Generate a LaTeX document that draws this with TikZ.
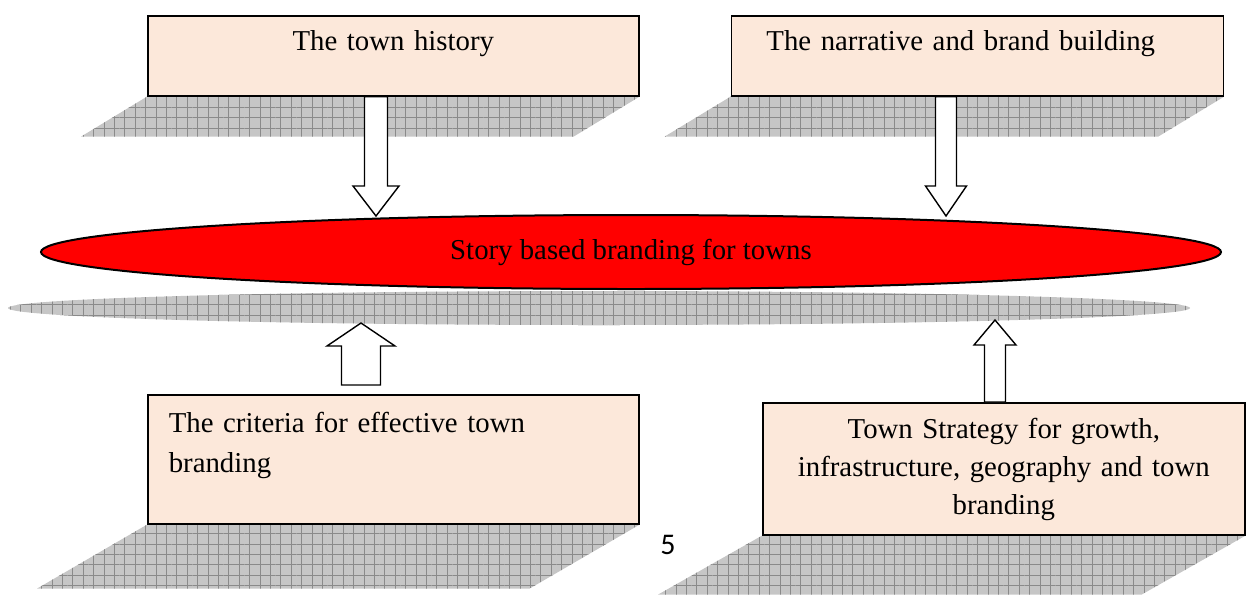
\documentclass[tikz,border=0pt]{standalone}
\usepackage{fontspec}
\setmainfont{Liberation Serif}
\newfontfamily\pagenumfont{Carlito}
\usetikzlibrary{shapes.geometric, positioning, calc, backgrounds, patterns.meta}
\definecolor{boxPeach} {RGB}{252, 232, 218}
\definecolor{storyRed} {RGB}{255,   0,   0}
\definecolor{planeGray}{RGB}{198, 198, 198}
\definecolor{gridGray} {RGB}{138, 138, 138}
\tikzset{
  box/.style   = {rectangle, draw=black, fill=boxPeach, line width=0.8pt,
                  inner sep=0pt, font=\fontsize{14.4}{19}\selectfont},
  plane/.style = {fill=planeGray,
                  postaction={pattern={Hatch[distance=5.2pt, line width=0.5pt]},
                              pattern color=gridGray}},
  blk/.style   = {draw=black, fill=white, line width=0.7pt},
}
% block arrow: tail level from #1, tip at #2, shaft half, head half, head length
\newcommand{\blockarrow}[5]{%
  \draw[blk] let \p1=(#1), \p2=(#2), \n1={sign(\y2-\y1)},
                 \n2={\y2-\n1*#5} in
    ({\x2-#3},\y1) -- ({\x2-#3},\n2) -- ({\x2-#4},\n2) -- (\x2,\y2)
    -- ({\x2+#4},\n2) -- ({\x2+#3},\n2) -- ({\x2+#3},\y1) -- cycle;}

\begin{document}
\begin{tikzpicture}[x=0.5pt, y=-0.5pt]
\useasboundingbox (0,0) rectangle (1247,596);

% ---- Top row: history and narrative ----------------------------------------
\node[box, anchor=north west, text width=245.5pt, align=center,
      text height=17.5pt, text depth=22.5pt] (hist) at (147,15)
      {The town history};

\node[box, right=45.5pt of hist, text width=211pt, inner xsep=17.5pt,
      align=left, text height=17.5pt, text depth=22.5pt] (narr)
      {The narrative and brand building};

% ---- Centre: the story ------------------------------------------------------
\node[ellipse, draw=black, line width=1pt, fill=storyRed, inner sep=0pt,
      minimum width=590pt, minimum height=37pt,
      font=\fontsize{14.4}{19}\selectfont] (story) at (631,252)
      {Story based branding for towns};

\node[ellipse, plane, inner sep=0pt, minimum width=591pt,
      minimum height=17pt] (storyBase) at (599,308) {};

% ---- Bottom row: criteria and strategy --------------------------------------
\node[box, anchor=north west, text width=224.5pt, inner xsep=10.5pt,
      align=left, text height=19pt, text depth=45.5pt,
      font=\fontsize{14.4}{20}\selectfont] (crit) at (147,394)
      {The criteria for effective town\\branding};

\node[box, anchor=north west, text width=241pt, align=center,
      text height=18pt, text depth=48pt] (strat) at (762,402)
      {Town Strategy for growth,\\infrastructure, geography and town\\branding};

% ---- Page number ------------------------------------------------------------
\node[font=\pagenumfont\fontsize{15}{18}\selectfont] (pagenum) at (668,545) {5};

% ---- Arrows -----------------------------------------------------------------
\coordinate (histTip)   at (376,216);
\coordinate (narrTip)   at (946,216);
\coordinate (critTail)  at ($(crit.north)+(0,-9)$);
\coordinate (critTip)   at (361,323);
\coordinate (stratTip)  at (995,320);

\blockarrow{hist.south}{histTip}{5.75pt}{11.5pt}{15pt}
\blockarrow{narr.south}{narrTip}{5.25pt}{10.25pt}{15pt}
\blockarrow{critTail}{critTip}{9.75pt}{17pt}{11.5pt}
\blockarrow{strat.north}{stratTip}{5.25pt}{10.5pt}{12.5pt}

% ---- Floor planes (backgrounds) ---------------------------------------------
\begin{scope}[on background layer]
  \fill[plane] (hist.south west) -- (hist.south east) -- ++(-66,40)
        -- ($(hist.south west)+(-66,40)$) -- cycle;
  \fill[plane] (narr.south west) -- (narr.south east) -- ++(-66,40)
        -- ($(narr.south west)+(-66,40)$) -- cycle;
  \fill[plane] (crit.south west) -- (crit.south east) -- ++(-110,64)
        -- ($(crit.south west)+(-110,64)$) -- cycle;
  \fill[plane] (strat.south west) -- (strat.south east) -- ++(-104,59)
        -- ($(strat.south west)+(-104,59)$) -- cycle;
\end{scope}

\end{tikzpicture}
\end{document}
